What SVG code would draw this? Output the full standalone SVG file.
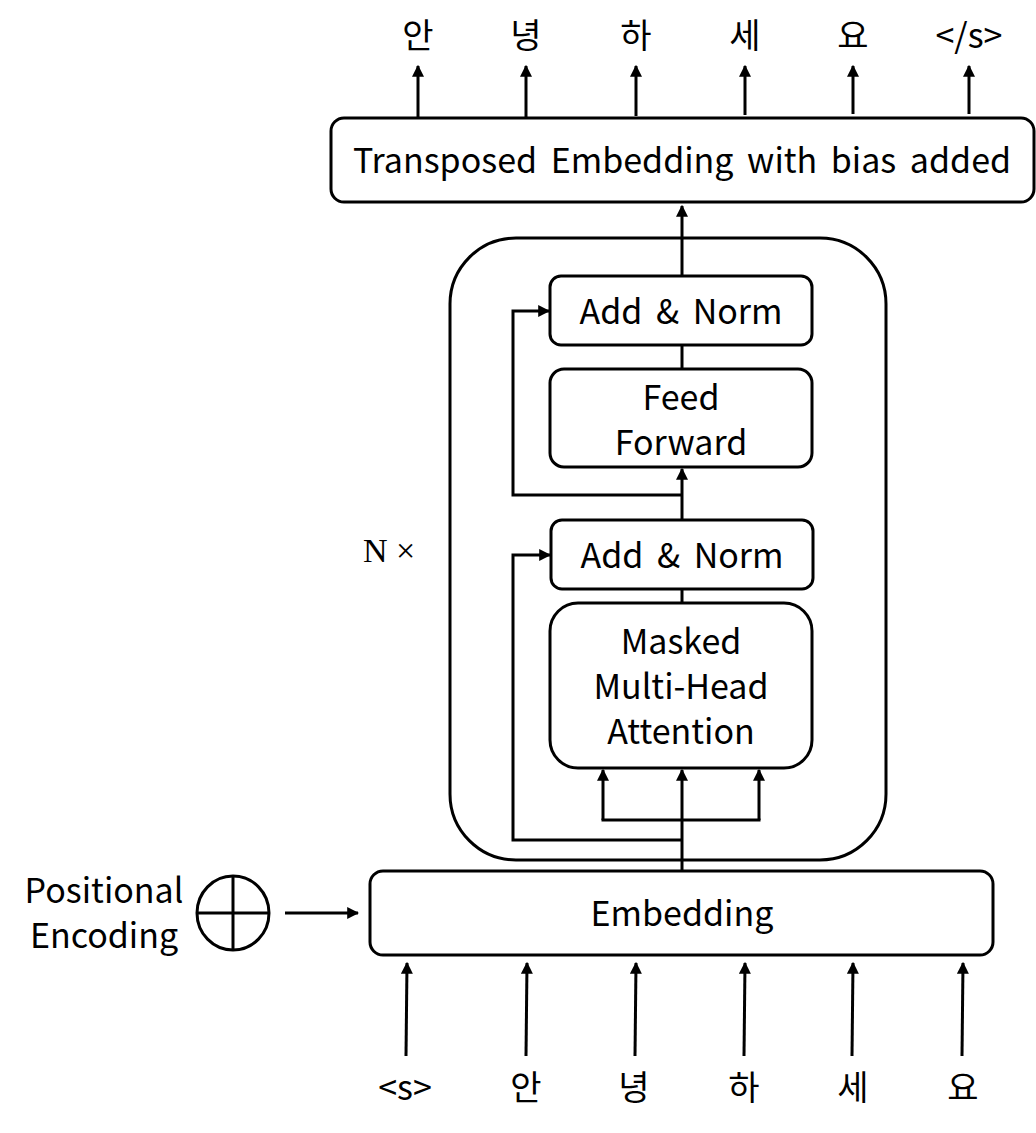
<svg xmlns="http://www.w3.org/2000/svg" width="1036" height="1133" viewBox="0 0 1036 1133">
<style>
.box{fill:#fff;stroke:#000;stroke-width:3}
.t{font-family:"Noto Sans CJK KR","Noto Sans",sans-serif;font-size:34px;fill:#000;text-anchor:middle;word-spacing:6px}
.ln{fill:none;stroke:#000;stroke-width:3}
.ar{fill:none;stroke:#000;stroke-width:3;marker-end:url(#ah)}
</style>
<defs>
<marker id="ah" viewBox="0 0 10 10" refX="9" refY="5" markerWidth="4" markerHeight="4" markerUnits="strokeWidth" orient="auto">
<path d="M0,0 L10,5 L0,10 Z" fill="#000"/>
</marker>
</defs>
<rect width="1036" height="1133" fill="#fff"/>
<g id="container"><rect class="box" x="450" y="238" width="436" height="622" rx="66"/></g>
<g id="connectors">
<line class="ar" x1="418" y1="117" x2="418" y2="66"/>
<line class="ar" x1="526" y1="117" x2="526" y2="66"/>
<line class="ar" x1="636" y1="116" x2="636" y2="66"/>
<line class="ar" x1="745" y1="115" x2="745" y2="66"/>
<line class="ar" x1="853" y1="114" x2="853" y2="66"/>
<line class="ar" x1="969" y1="114" x2="969" y2="66"/>
<line class="ar" x1="682" y1="276" x2="682" y2="206"/>
<line class="ln" x1="682" y1="345" x2="682" y2="369"/>
<line class="ar" x1="682" y1="520" x2="682" y2="469"/>
<polyline class="ar" points="682,495 513,495 513,311 549,311"/>
<line class="ln" x1="682" y1="589" x2="682" y2="603"/>
<line class="ar" x1="682" y1="871" x2="682" y2="770"/>
<polyline class="ar" points="603,820 603,770"/>
<polyline class="ar" points="759,820 759,770"/>
<line class="ln" x1="601.5" y1="820" x2="760.5" y2="820"/>
<polyline class="ar" points="682,840 513,840 513,555 550,555"/>
<line class="ar" x1="285" y1="913" x2="358" y2="913"/>
<line class="ar" x1="406" y1="1056" x2="407" y2="963"/>
<line class="ar" x1="526" y1="1056" x2="527" y2="963"/>
<line class="ar" x1="635" y1="1056" x2="636" y2="963"/>
<line class="ar" x1="744" y1="1056" x2="745" y2="963"/>
<line class="ar" x1="852" y1="1056" x2="853" y2="963"/>
<line class="ar" x1="962" y1="1056" x2="963" y2="963"/>
</g>
<g id="out-tokens">
<text class="t" x="418" y="48">안</text>
<text class="t" x="526" y="48">녕</text>
<text class="t" x="636" y="48">하</text>
<text class="t" x="745" y="48">세</text>
<text class="t" x="853" y="48">요</text>
<text class="t" x="969" y="48">&lt;/s&gt;</text>
</g>
<g id="transposed"><rect class="box" x="331" y="118" width="703" height="84" rx="13"/><text class="t" x="682" y="173">Transposed Embedding with bias added</text></g>
<g id="addnorm2"><rect class="box" x="550" y="276" width="262" height="69" rx="11"/><text class="t" x="681" y="324">Add &amp; Norm</text></g>
<g id="ff"><rect class="box" x="550" y="369" width="262" height="98" rx="14"/><text class="t" x="681" y="410">Feed</text><text class="t" x="681" y="455">Forward</text></g>
<g id="addnorm1"><rect class="box" x="551" y="520" width="262" height="69" rx="11"/><text class="t" x="682" y="568">Add &amp; Norm</text></g>
<g id="mmha"><rect class="box" x="550" y="603" width="262" height="165" rx="28"/><text class="t" x="681" y="654">Masked</text><text class="t" x="681" y="699">Multi-Head</text><text class="t" x="681" y="744">Attention</text></g>
<g id="nx"><text x="389" y="562" style="font-family:'Liberation Serif',serif;font-size:34px;text-anchor:middle">N ×</text></g>
<g id="embedding"><rect class="box" x="370" y="871" width="623" height="84" rx="13"/><text class="t" x="682" y="926">Embedding</text></g>
<g id="posenc">
<text class="t" x="104" y="903">Positional</text>
<text class="t" x="104" y="948">Encoding</text>
<ellipse cx="233" cy="913" rx="36" ry="37" fill="#fff" stroke="#000" stroke-width="3"/>
<line class="ln" x1="233" y1="876" x2="233" y2="950" stroke-width="2"/>
<line class="ln" x1="197" y1="913" x2="269" y2="913" stroke-width="2"/>
</g>
<g id="in-tokens">
<text class="t" x="405" y="1100">&lt;s&gt;</text>
<text class="t" x="526" y="1100">안</text>
<text class="t" x="634" y="1100">녕</text>
<text class="t" x="744" y="1100">하</text>
<text class="t" x="853" y="1100">세</text>
<text class="t" x="963" y="1100">요</text>
</g>
</svg>
